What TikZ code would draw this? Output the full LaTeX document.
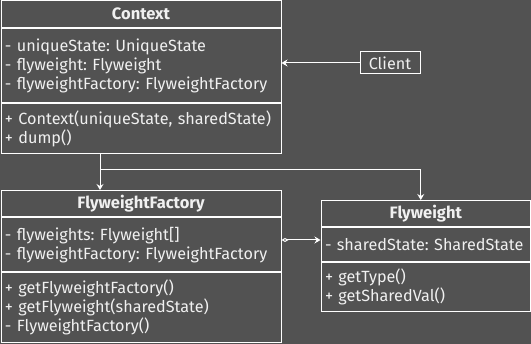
\documentclass[tikz,border=0pt]{standalone}
\usepackage{fontspec}
\setmainfont{Fira Sans}
\frenchspacing
\usetikzlibrary{arrows.meta,positioning}
\definecolor{Board}{HTML}{525252}
\definecolor{Ink}{HTML}{F0F0F0}
\tikzset{
  clshead/.style={draw=white, line width=1pt, minimum width=#1,
    minimum height=26.5pt, inner sep=0pt, text=Ink,
    font=\fontsize{16.5}{19}\selectfont\bfseries},
  clsbody/.style={draw=white, line width=1pt, text width=#1,
    inner xsep=4pt, inner ysep=0pt, align=left, text=Ink,
    font=\fontsize{16.2}{19}\selectfont},
  actor/.style={draw=white, line width=1pt, minimum width=60pt,
    minimum height=22pt, inner sep=0pt, text=Ink,
    font=\fontsize{16.2}{19}\selectfont},
  arr/.style={-{Stealth[length=6pt,width=7pt,inset=2pt]}, line width=1pt, draw=white},
  agg/.style={{Diamond[open,length=7pt,width=4pt]}-{Stealth[length=6pt,width=7pt,inset=2pt]},
    line width=1pt, draw=white},
}
\begin{document}
\begin{tikzpicture}[x=1pt, y=1pt]
  \useasboundingbox (0,0) rectangle (531,-344);
  \fill[Board] (0,0) rectangle (531,-344);

  % Context
  \node[clshead=280pt, anchor=north west] (ctx) at (0.5,-0.5) {Context};
  \node[clsbody=272pt, minimum height=74pt, below=0pt of ctx] (ctxattr)
    {- uniqueState: UniqueState\\- flyweight: Flyweight\\- flyweightFactory: FlyweightFactory};
  \node[clsbody=272pt, minimum height=50pt, below=0pt of ctxattr] (ctxops)
    {+ Context(uniqueState, sharedState)\\+ dump()};

  % FlyweightFactory
  \node[clshead=280pt, anchor=north west] (ff) at (0.5,-190) {FlyweightFactory};
  \node[clsbody=272pt, minimum height=53.5pt, below=0pt of ff] (ffattr)
    {- flyweights: Flyweight[]\\- flyweightFactory: FlyweightFactory};
  \node[clsbody=272pt, minimum height=70pt, below=0pt of ffattr] (ffops)
    {+ getFlyweightFactory()\\+ getFlyweight(sharedState)\\- FlyweightFactory()};

  % Flyweight
  \node[clshead=209.5pt, anchor=north west] (fw) at (320.5,-200) {Flyweight};
  \node[clsbody=201.5pt, minimum height=34pt, below=0pt of fw] (fwattr)
    {\mbox{- sharedState: SharedState}};
  \node[clsbody=201.5pt, minimum height=48.5pt, below=0pt of fwattr] (fwops)
    {+ getType()\\+ getSharedVal()};

  \node[actor] (client) at (390,-63) {Client};

  \coordinate (fork) at (100,-170);

  \draw[arr] (client.west) -- (client.west -| ctxattr.east);
  \draw[arr] (ctxops.south -| fork) -- (ff.north -| fork);
  \draw[arr] (fork) -| ([xshift=-5pt]fw.north);
  \draw[agg] ([yshift=5pt]fwattr.west -| ffattr.east) -- ([yshift=5pt]fwattr.west);
\end{tikzpicture}
\end{document}
